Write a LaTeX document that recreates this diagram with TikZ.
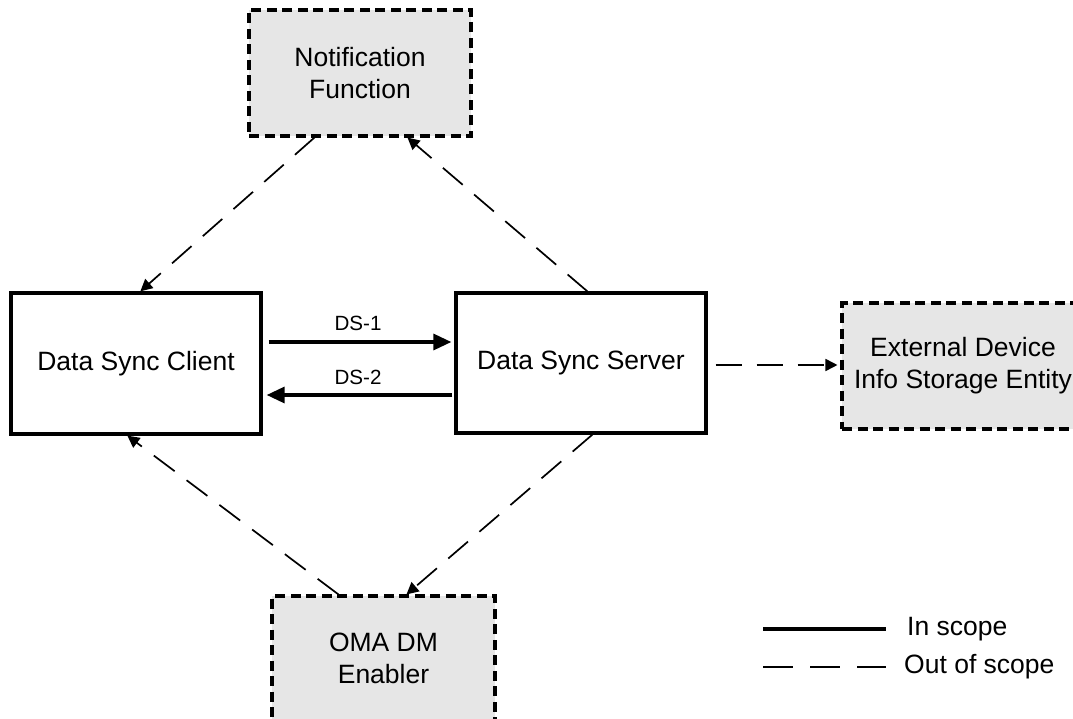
\documentclass[tikz,border=0pt]{standalone}
\usepackage{fontspec}
\setmainfont{Liberation Sans}
\usetikzlibrary{arrows.meta}
\definecolor{boxgray}{RGB}{230,230,230}
\begin{document}
\begin{tikzpicture}[x=1pt,y=-1pt,
  txt/.style={font=\fontsize{26.5}{32}\selectfont,align=center,inner sep=0pt},
  inbox/.style={txt,draw,line width=3.3pt,fill=white},
  outbox/.style={txt,draw,line width=3.1pt,dash pattern=on 10pt off 5.5pt,fill=boxgray},
  dslabel/.style={font=\fontsize{20.6}{24}\selectfont,inner sep=0pt},
  solidarrow/.style={line width=3.3pt,-{Triangle[length=18pt,width=16pt]}},
  dasharrow/.style={line width=1.7pt,dash pattern=on 26pt off 15pt,-{Triangle[length=12pt,width=12pt]}},
  legsolid/.style={line width=3.8pt},
  legdash/.style={line width=2pt,dash pattern=on 30pt off 17pt}]
\useasboundingbox (0,0) rectangle (1073,719);
\clip (0,0) rectangle (1073,719);

% boxes
\node[inbox, minimum width=250pt, minimum height=141pt] (client) at (136,363.5) {Data Sync Client};
\node[inbox, minimum width=250pt, minimum height=140pt] (server) at (581,363) {Data Sync Server};
\node[outbox, minimum width=222pt, minimum height=126pt] (notif) at (360,73) {Notification\\Function};
\node[outbox, minimum width=223pt, minimum height=125pt] (oma) at (383.5,658.5) {OMA DM\\Enabler};
\node[outbox, minimum width=242pt, minimum height=126pt] (ext) at (963,366) {External Device\\Info Storage Entity};

% in-scope interfaces
\draw[solidarrow] ([xshift=6pt,yshift=21.5pt]client.east) -- ([xshift=-3pt,yshift=21pt]server.west);
\draw[solidarrow] ([xshift=-2pt,yshift=-32pt]server.west) -- ([xshift=4pt,yshift=-31.5pt]client.east);
\node[dslabel] (ds1) at (358,323) {DS-1};
\node[dslabel] (ds2) at (358,377) {DS-2};

% out-of-scope connectors
\draw[dasharrow] ([xshift=67pt]notif.south west) -- ([xshift=131pt]client.north west);
\draw[dasharrow] ([xshift=133pt]server.north west) -- ([xshift=160pt]notif.south west);
\draw[dasharrow] ([xshift=138pt]server.south west) -- ([xshift=136pt]oma.north west);
\draw[dasharrow] ([xshift=68pt]oma.north west) -- ([xshift=118pt]client.south west);
\draw[dasharrow] ([xshift=8pt,yshift=-2pt]server.east) -- ([xshift=-3pt,yshift=1pt]ext.west);

% legend
\coordinate (l1a) at (763,629);
\coordinate (l1b) at (886,629);
\coordinate (l2a) at (763,667);
\coordinate (l2b) at (886,667);
\draw[legsolid] (l1a) -- (l1b);
\draw[legdash] (l2a) -- (l2b);
\node[txt,anchor=west] (lin) at (907,629) {In scope};
\node[txt,anchor=west] (lout) at (904,667) {Out of scope};
\end{tikzpicture}
\end{document}
